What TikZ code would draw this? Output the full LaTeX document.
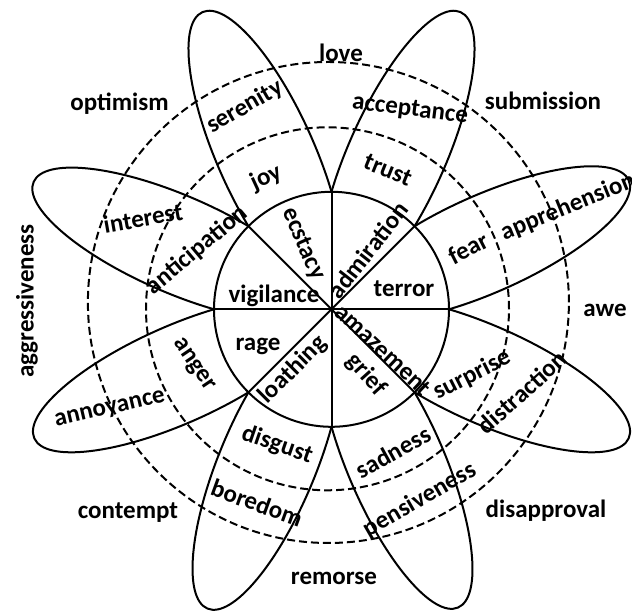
\documentclass[tikz,border=0pt]{standalone}
\usepackage{fontspec}
\setmainfont{Carlito}
\usetikzlibrary{calc}
\begin{document}
\begin{tikzpicture}[x=1pt,y=1pt,
  petal/.style={draw=black, line width=2pt},
  ring/.style={draw=black, line width=2pt, dash pattern=on 8pt off 4pt},
  core/.style={draw=black, fill=white, line width=2pt},
  spoke/.style={draw=black, line width=2pt},
  lbl/.style={font=\fontsize{25}{30}\selectfont\bfseries, inner sep=0pt}]
\useasboundingbox (0,0) rectangle (632,612);
\fill[white] (0,0) rectangle (632,612);
\coordinate (C) at (331.5,302.7);
% petals
\foreach \ang/\off [count=\i] in {22.5/1.5, 67.5/-1.5, 112.5/1.5, 157.5/-1, 202.5/1.5, 247.5/0, 292.5/0.75, 337.5/-1.5} {
  \path (C) ++(\ang:168) ++({\ang+90}:{0.93*\off}) coordinate (P\i);
  \draw[petal, rotate around={\ang+\off:(P\i)}] (P\i) ellipse [x radius=156, y radius=48.6];
}
% dashed rings
\draw[ring] (327.5,303.2) circle[radius=181.5];
\draw[ring] (328.4,309.5) circle[radius=240.5];
% core
\draw[core] (C) circle[radius=117.5];
\foreach \a in {0,45,...,315} \draw[spoke] (C) -- ++(\a:117.5);
% outer labels
\node[lbl, anchor=base] (love) at (341,550.3) {love};
\node[lbl, anchor=base] (optimism) at (119.5,501) {optimism};
\node[lbl, anchor=base] (submission) at (543,502) {submission};
\node[lbl, rotate=90] (aggr) at (27,311) {aggressiveness};
\node[lbl, anchor=base] (awe) at (605,295.3) {awe};
\node[lbl, anchor=base] (contempt) at (128,93) {contempt};
\node[lbl, anchor=base] (disapproval) at (546,94) {disapproval};
\node[lbl, anchor=base] (remorse) at (334,27) {remorse};
% petal outer labels
\node[lbl, rotate=30] (serenity) at (245,505) {serenity};
\node[lbl, rotate=-7] (acceptance) at (410,502) {acceptance};
\node[lbl, rotate=22] (apprehension) at (568,405) {apprehension};
\node[lbl, rotate=42] (distraction) at (522,220) {distraction};
\node[lbl, rotate=30] (pensiveness) at (420,112) {pensiveness};
\node[lbl, rotate=-20] (boredom) at (257,109) {boredom};
\node[lbl, rotate=13] (annoyance) at (110,202) {annoyance};
\node[lbl, rotate=10] (interest) at (143,394) {interest};
% middle labels
\node[lbl, rotate=25] (joy) at (266,434) {joy};
\node[lbl, rotate=-22] (trust) at (388,442) {trust};
\node[lbl, rotate=27] (fear) at (468,364) {fear};
\node[lbl, rotate=27] (surprise) at (472,237) {surprise};
\node[lbl, rotate=29] (sadness) at (393,160) {sadness};
\node[lbl, rotate=-19] (disgust) at (277,167) {disgust};
\node[lbl, rotate=-56] (anger) at (193,247) {anger};
\node[lbl, rotate=40] (anticipation) at (197,362) {anticipation};
% inner labels
\node[lbl, rotate=-66] (ecstasy) at (303,368) {ecstacy};
\node[lbl, rotate=52] (admiration) at (368,362) {admiration};
\node[lbl] (terror) at (404,323) {terror};
\node[lbl] (vigilance) at (274,316) {vigilance};
\node[lbl] (rage) at (258,266) {rage};
\node[lbl, rotate=45] (loathing) at (293,242) {loathing};
\node[lbl, rotate=-43] (amazement) at (383,262) {amazement};
\node[lbl, rotate=-48] (grief) at (366,237) {grief};
\end{tikzpicture}
\end{document}
